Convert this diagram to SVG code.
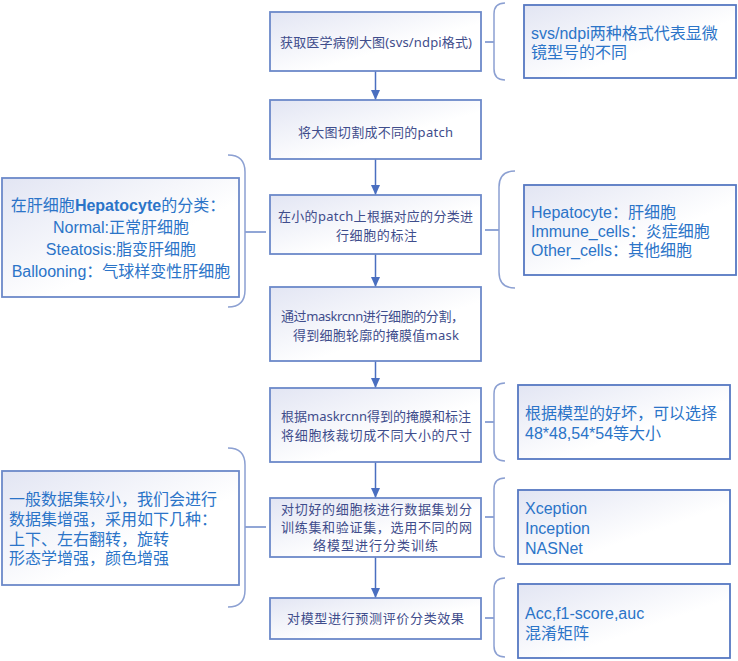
<svg xmlns="http://www.w3.org/2000/svg" width="738" height="661" viewBox="0 0 738 661">
<defs>
<linearGradient id="g" x1="0" y1="0" x2="1" y2="1">
<stop offset="0" stop-color="#E2E5F3"/>
<stop offset="0.6" stop-color="#FFFFFF"/>
<stop offset="1" stop-color="#FFFFFF"/>
</linearGradient>
<marker id="ah" markerWidth="10" markerHeight="9" refX="10" refY="4.5" orient="auto" markerUnits="userSpaceOnUse">
<path d="M0,0 L10,4.5 L0,9 Z" fill="#4A6FC0"/>
</marker>
<style>
.box{fill:url(#g);stroke:#6C89C9;stroke-width:1.8}
.sbox{fill:url(#g);stroke:#5678C2;stroke-width:1.8}
.mt{font-family:"Noto Sans","Noto Sans CJK SC",sans-serif;font-size:13px;fill:#3F4D8C;text-anchor:middle;dominant-baseline:central}
.st{font-family:"Liberation Sans","Noto Sans CJK SC",sans-serif;font-size:16px;fill:#2B74C8;dominant-baseline:central}
.arr{stroke:#4A6FC0;stroke-width:1.5;fill:none}
.br{stroke:#8CA0D2;stroke-width:1.5;fill:none}
.ln{stroke:#6C89C9;stroke-width:1.5;fill:none}
</style>
</defs>

<g id="connectors">
<line class="arr" x1="375.5" y1="71" x2="375.5" y2="100" marker-end="url(#ah)"/>
<line class="arr" x1="375.5" y1="159" x2="375.5" y2="195" marker-end="url(#ah)"/>
<line class="arr" x1="375.5" y1="254" x2="375.5" y2="287" marker-end="url(#ah)"/>
<line class="arr" x1="375.5" y1="361" x2="375.5" y2="388" marker-end="url(#ah)"/>
<line class="arr" x1="375.5" y1="462" x2="375.5" y2="498" marker-end="url(#ah)"/>
<line class="arr" x1="375.5" y1="557" x2="375.5" y2="598" marker-end="url(#ah)"/>
<line class="ln" x1="485" y1="42" x2="494" y2="42"/>
<path class="br" d="M505,3 Q494,3 494,14 L494,69 Q494,80 505,80"/>
<line class="ln" x1="485" y1="230" x2="499" y2="230"/>
<path class="br" d="M515,171 Q499,171 499,187 L499,272 Q499,288 515,288"/>
<line class="ln" x1="485" y1="422" x2="494" y2="422"/>
<path class="br" d="M505,383 Q494,383 494,394 L494,450 Q494,461 505,461"/>
<line class="ln" x1="485" y1="517" x2="494" y2="517"/>
<path class="br" d="M505,478 Q494,478 494,489 L494,546 Q494,557 505,557"/>
<line class="ln" x1="485" y1="618" x2="494" y2="618"/>
<path class="br" d="M505,578 Q494,578 494,589 L494,646 Q494,657 505,657"/>
<line class="ln" x1="245" y1="232" x2="266" y2="232"/>
<path class="br" d="M228,155 Q245,155 245,172 L245,290 Q245,307 228,307"/>
<line class="ln" x1="245" y1="527" x2="266" y2="527"/>
<path class="br" d="M228,448 Q245,448 245,465 L245,590 Q245,607 228,607"/>
</g>

<g id="n1">
<rect class="box" x="270" y="12" width="211" height="59"/>
<text class="mt" x="376" y="42" textLength="192" lengthAdjust="spacing">获取医学病例大图(svs/ndpi格式)</text>
</g>
<g id="n2">
<rect class="box" x="270" y="100" width="211" height="59"/>
<text class="mt" x="375.5" y="132" textLength="155" lengthAdjust="spacing">将大图切割成不同的patch</text>
</g>
<g id="n3">
<rect class="box" x="270" y="195" width="211" height="59"/>
<text class="mt" x="375.5" y="216" textLength="195" lengthAdjust="spacing">在小的patch上根据对应的分类进</text>
<text class="mt" x="376.5" y="235" textLength="81" lengthAdjust="spacing">行细胞的标注</text>
</g>
<g id="n4">
<rect class="box" x="270" y="287" width="211" height="74"/>
<text class="mt" x="372.5" y="316" textLength="183" lengthAdjust="spacing">通过maskrcnn进行细胞的分割，</text>
<text class="mt" x="376" y="335" textLength="166" lengthAdjust="spacing">得到细胞轮廓的掩膜值mask</text>
</g>
<g id="n5">
<rect class="box" x="270" y="388" width="211" height="74"/>
<text class="mt" x="376" y="416" textLength="190" lengthAdjust="spacing">根据maskrcnn得到的掩膜和标注</text>
<text class="mt" x="376.5" y="435" textLength="191" lengthAdjust="spacing">将细胞核裁切成不同大小的尺寸</text>
</g>
<g id="n6">
<rect class="box" x="270" y="498" width="211" height="59"/>
<text class="mt" x="376.5" y="509" textLength="191" lengthAdjust="spacing">对切好的细胞核进行数据集划分</text>
<text class="mt" x="376.5" y="527" textLength="191" lengthAdjust="spacing">训练集和验证集，选用不同的网</text>
<text class="mt" x="375.5" y="545" textLength="125" lengthAdjust="spacing">络模型进行分类训练</text>
</g>
<g id="n7">
<rect class="box" x="270" y="598" width="211" height="41"/>
<text class="mt" x="375.5" y="618" textLength="177" lengthAdjust="spacing">对模型进行预测评价分类效果</text>
</g>

<g id="r1">
<rect class="sbox" x="524" y="5" width="212" height="73"/>
<text class="st" x="531" y="33">svs/ndpi两种格式代表显微</text>
<text class="st" x="531" y="52">镜型号的不同</text>
</g>
<g id="r2">
<rect class="sbox" x="524" y="185" width="212" height="90"/>
<text class="st" x="531" y="212">Hepatocyte：肝细胞</text>
<text class="st" x="531" y="231">Immune_cells：炎症细胞</text>
<text class="st" x="531" y="250">Other_cells：其他细胞</text>
</g>
<g id="r3">
<rect class="sbox" x="518" y="385" width="212" height="74"/>
<text class="st" x="525" y="413">根据模型的好坏，可以选择</text>
<text class="st" x="525" y="433">48*48,54*54等大小</text>
</g>
<g id="r4">
<rect class="sbox" x="518" y="490" width="212" height="74"/>
<text class="st" x="525" y="508">Xception</text>
<text class="st" x="525" y="528">Inception</text>
<text class="st" x="525" y="548">NASNet</text>
</g>
<g id="r5">
<rect class="sbox" x="518" y="584" width="212" height="74"/>
<text class="st" x="525" y="613">Acc,f1-score,auc</text>
<text class="st" x="525" y="633">混淆矩阵</text>
</g>

<g id="l1">
<rect class="box" x="2" y="178" width="237" height="119"/>
<text class="st" x="118" y="205" text-anchor="middle">在肝细胞<tspan font-weight="bold">Hepatocyte</tspan>的分类：</text>
<text class="st" x="121" y="227" text-anchor="middle">Normal:正常肝细胞</text>
<text class="st" x="121" y="249" text-anchor="middle">Steatosis:脂变肝细胞</text>
<text class="st" x="121" y="271" text-anchor="middle">Ballooning：气球样变性肝细胞</text>
</g>
<g id="l2">
<rect class="box" x="2" y="471" width="237" height="114"/>
<text class="st" x="9" y="499">一般数据集较小，我们会进行</text>
<text class="st" x="9" y="519">数据集增强，采用如下几种：</text>
<text class="st" x="9" y="539">上下、左右翻转，旋转</text>
<text class="st" x="9" y="558">形态学增强，颜色增强</text>
</g>
</svg>
